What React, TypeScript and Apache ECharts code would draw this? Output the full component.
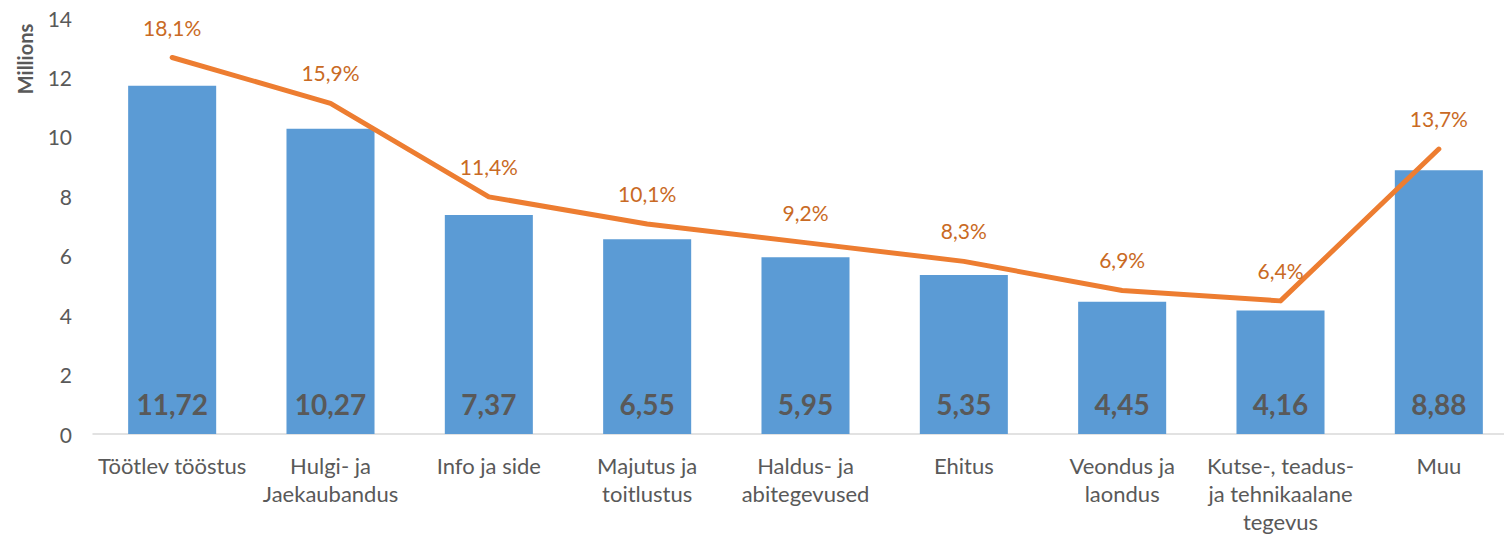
import React, { useEffect, useRef } from "react";
import * as echarts from "echarts";

const categories = [
  "Töötlev tööstus",
  "Hulgi- ja\nJaekaubandus",
  "Info ja side",
  "Majutus ja\ntoitlustus",
  "Haldus- ja\nabitegevused",
  "Ehitus",
  "Veondus ja\nlaondus",
  "Kutse-, teadus-\nja tehnikaalane\ntegevus",
  "Muu",
];
const amounts = [11.72, 10.27, 7.37, 6.55, 5.95, 5.35, 4.45, 4.16, 8.88];
const shares = [18.1, 15.9, 11.4, 10.1, 9.2, 8.3, 6.9, 6.4, 13.7];
const yTicks = [0, 2, 4, 6, 8, 10, 12, 14];

const FONT = "Lato, 'Open Sans', sans-serif";

export default function App() {
  const ref = useRef<HTMLDivElement>(null);
  useEffect(() => {
    if (!ref.current) return;
    const chart = echarts.init(ref.current, undefined, { renderer: "svg" });
    chart.setOption({
      animation: false,
      textStyle: { fontFamily: FONT },
      grid: { left: 93, right: 0, top: 18, bottom: 101, containLabel: false },
      graphic: [
        {
          type: "text",
          x: 25,
          y: 59,
          rotation: Math.PI / 2,
          style: {
            text: "Millions",
            fill: "#595959",
            font: `bold 20px ${FONT}`,
            align: "center",
            verticalAlign: "middle",
          },
        },
      ],
      xAxis: {
        type: "category",
        data: categories,
        axisLine: { lineStyle: { color: "#D9D9D9", width: 1.5 } },
        axisTick: { show: false },
        axisLabel: {
          color: "#595959",
          fontSize: 22,
          lineHeight: 28,
          margin: 17,
          interval: 0,
          fontFamily: FONT,
        },
      },
      yAxis: [
        {
          type: "value",
          min: yTicks[0],
          max: yTicks[yTicks.length - 1],
          interval: 2,
          axisLine: { show: false },
          axisTick: { show: false },
          splitLine: { show: false },
          axisLabel: { color: "#595959", fontSize: 21, margin: 21, fontFamily: FONT },
        },
        {
          type: "value",
          min: 0,
          max: 20,
          show: false,
          splitLine: { show: false },
        },
      ],
      series: [
        {
          type: "bar",
          data: amounts,
          barWidth: "55.6%",
          itemStyle: { color: "#5B9BD5" },
          label: {
            show: true,
            position: "insideBottom",
            distance: 16,
            color: "#595959",
            fontSize: 28,
            fontWeight: "bold",
            fontFamily: FONT,
            formatter: (p: any) => p.value.toFixed(2).replace(".", ","),
          },
        },
        {
          type: "line",
          yAxisIndex: 1,
          data: shares,
          showSymbol: true,
          symbol: "circle",
          symbolSize: 2,
          itemStyle: { color: "rgba(0,0,0,0)", borderWidth: 0 },
          lineStyle: { color: "#ED7D31", width: 5, cap: "round", join: "round" },
          label: {
            show: true,
            position: "top",
            distance: 19,
            color: "#C96A24",
            fontSize: 21,
            fontFamily: FONT,
            formatter: (p: any) => p.value.toFixed(1).replace(".", ",") + "%",
          },
        },
      ],
    });
    return () => chart.dispose();
  }, []);
  return (
    <div
      ref={ref}
      style={{ position: "fixed", left: 0, top: 0, width: 1518, height: 535, background: "#fff" }}
    />
  );
}
